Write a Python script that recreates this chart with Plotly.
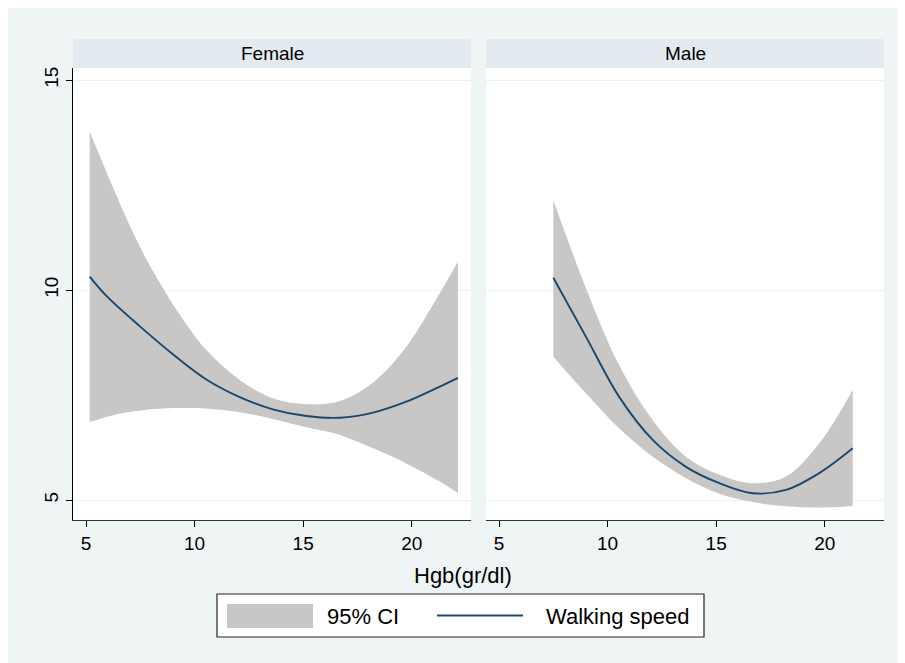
import plotly.graph_objects as go

# ---- data ----
female_x = [5.17, 5.94, 7.47, 9.0, 10.54, 12.08, 13.6, 15.15, 16.69, 18.22, 19.75, 21.29, 22.13]
female_fit = [10.32, 9.86, 9.14, 8.47, 7.87, 7.45, 7.16, 7.0, 6.96, 7.08, 7.34, 7.70, 7.91]
female_band_x = [5.17, 6.26, 7.03, 7.8, 8.6, 9.1, 10.54, 12.08, 13.6, 15.15, 16.69, 18.22, 19.75, 21.29, 22.13]
female_hi = [13.77, 12.42, 11.51, 10.71, 10.0, 9.58, 8.57, 7.86, 7.42, 7.28, 7.36, 7.80, 8.65, 9.92, 10.67]
female_lo = [6.86, 7.02, 7.10, 7.15, 7.18, 7.19, 7.18, 7.09, 6.93, 6.73, 6.55, 6.23, 5.87, 5.44, 5.16]

male_x = [7.5, 9.0, 10.54, 12.08, 13.61, 15.15, 16.69, 18.22, 19.75, 21.29]
male_fit = [10.29, 8.89, 7.45, 6.43, 5.79, 5.40, 5.16, 5.24, 5.64, 6.23]
male_hi = [12.14, 10.05, 8.20, 6.90, 6.03, 5.60, 5.40, 5.56, 6.35, 7.62]
male_lo = [8.41, 7.54, 6.70, 6.03, 5.52, 5.15, 4.95, 4.85, 4.82, 4.86]

panels = ["Female", "Male"]
x_ticks = [5, 10, 15, 20]
y_ticks = [5, 10, 15]
x_title = "Hgb(gr/dl)"
legend_labels = ["95% CI", "Walking speed"]

CI_COLOR = "#c9c6c6"
LINE_COLOR = "#1a476f"
OUTER_BG = "#eff5f5"
STRIP_BG = "#e3ebf1"
GRID = "#e9f1f1"
FONT = "Liberation Sans, Arial, Helvetica, sans-serif"

OFF = 8  # page body margin
PW, PH = 905 - OFF, 663 - OFF


def px(x):
    return (x - OFF) / PW


def py(y):
    return 1 - (y - OFF) / PH


fig = go.Figure()

series = [
    (female_x, female_fit, female_band_x, female_hi, female_lo, "x", "y"),
    (male_x, male_fit, male_x, male_hi, male_lo, "x2", "y2"),
]
for xs, fit, bx, hi, lo, xa, ya in series:
    fig.add_trace(go.Scatter(x=bx, y=hi, mode="lines",
                             line=dict(width=0, shape="spline", smoothing=1.0),
                             hoverinfo="skip", showlegend=False, xaxis=xa, yaxis=ya))
    fig.add_trace(go.Scatter(x=bx, y=lo, mode="lines", fill="tonexty", fillcolor=CI_COLOR,
                             line=dict(width=0, shape="spline", smoothing=1.0),
                             hoverinfo="skip", showlegend=False, xaxis=xa, yaxis=ya))
    fig.add_trace(go.Scatter(x=xs, y=fit, mode="lines",
                             line=dict(color=LINE_COLOR, width=1.9, shape="spline", smoothing=1.0),
                             showlegend=False, xaxis=xa, yaxis=ya))

xrange = [4.4, 22.73]
yrange = [4.524, 15.286]
ydom = [py(520), py(68)]
TICKFONT = dict(family=FONT, size=19, color="#000")

xcommon = dict(range=xrange, tickvals=x_ticks, ticks="outside", ticklen=6, tickcolor="#000",
               showline=True, linecolor="#333", linewidth=1.2, showgrid=False, zeroline=False,
               tickfont=TICKFONT, automargin=False)

fig.update_layout(
    width=PW, height=PH,
    margin=dict(l=0, r=0, t=0, b=0),
    paper_bgcolor=OUTER_BG, plot_bgcolor="white",
    font=dict(family=FONT, color="#000"),
    showlegend=False,
    xaxis=dict(domain=[px(73), px(471)], anchor="y", **xcommon),
    xaxis2=dict(domain=[px(486), px(884)], anchor="y2", **xcommon),
    yaxis=dict(domain=ydom, range=yrange, tickvals=y_ticks, ticks="outside", ticklen=6,
               tickcolor="#000", tickangle=-90, showline=True, linecolor="#000", linewidth=1.2,
               showgrid=True, gridcolor=GRID, gridwidth=1, zeroline=False, anchor="x",
               tickfont=TICKFONT, automargin=False),
    yaxis2=dict(domain=ydom, range=yrange, tickvals=y_ticks, showticklabels=False, ticks="",
                showline=False, showgrid=True, gridcolor=GRID, gridwidth=1, zeroline=False,
                anchor="x2", automargin=False),
)

shapes = [
    dict(type="rect", xref="paper", yref="paper", x0=px(73), x1=px(471), y0=py(68), y1=py(39),
         fillcolor=STRIP_BG, line=dict(width=0), layer="below"),
    dict(type="rect", xref="paper", yref="paper", x0=px(486), x1=px(884), y0=py(68), y1=py(39),
         fillcolor=STRIP_BG, line=dict(width=0), layer="below"),
    dict(type="rect", xref="paper", yref="paper", x0=px(217), x1=px(704), y0=py(637), y1=py(594),
         fillcolor="white", line=dict(color="#222", width=1.2)),
    dict(type="rect", xref="paper", yref="paper", x0=px(227), x1=px(313), y0=py(628), y1=py(604),
         fillcolor=CI_COLOR, line=dict(width=0)),
    dict(type="line", xref="paper", yref="paper", x0=px(437), x1=px(523), y0=py(615.5), y1=py(615.5),
         line=dict(color=LINE_COLOR, width=1.9)),
]
fig.update_layout(shapes=shapes)

annotations = [
    dict(text=panels[0], x=px(272), y=py(53.5), xref="paper", yref="paper", showarrow=False,
         font=dict(family=FONT, size=19, color="#000"), xanchor="center", yanchor="middle"),
    dict(text=panels[1], x=px(685), y=py(53.5), xref="paper", yref="paper", showarrow=False,
         font=dict(family=FONT, size=19, color="#000"), xanchor="center", yanchor="middle"),
    dict(text=x_title, x=px(463), y=py(575), xref="paper", yref="paper", showarrow=False,
         font=dict(family=FONT, size=22, color="#000"), xanchor="center", yanchor="middle"),
    dict(text=legend_labels[0], x=px(325), y=py(616), xref="paper", yref="paper", showarrow=False,
         font=dict(family=FONT, size=22, color="#000"), xanchor="left", yanchor="middle"),
    dict(text=legend_labels[1], x=px(544), y=py(616), xref="paper", yref="paper", showarrow=False,
         font=dict(family=FONT, size=22, color="#000"), xanchor="left", yanchor="middle"),
]
fig.update_layout(annotations=annotations)

fig.write_html("out.html")
